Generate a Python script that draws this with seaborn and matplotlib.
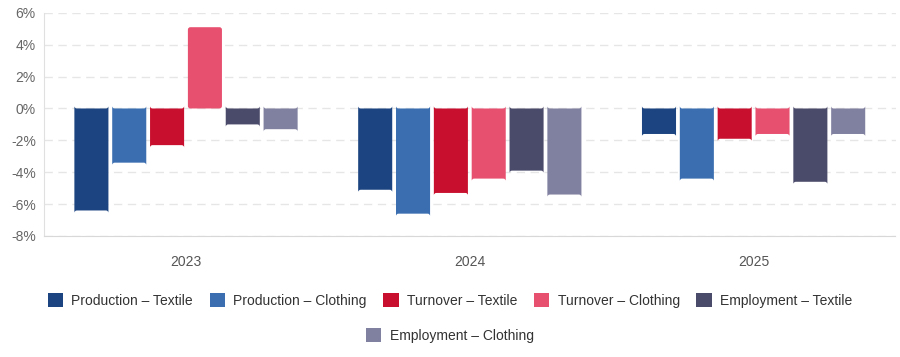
import pandas as pd
import matplotlib
matplotlib.use("Agg")
import matplotlib.pyplot as plt
import seaborn as sns
from matplotlib.patches import FancyBboxPatch, Patch
from matplotlib.ticker import FuncFormatter

# Data (annual change, %)
years = ["2023", "2024", "2025"]
series = [
    "Production – Textile",
    "Production – Clothing",
    "Turnover – Textile",
    "Turnover – Clothing",
    "Employment – Textile",
    "Employment – Clothing",
]
production_textile = [-6.4, -5.1, -1.6]
production_clothing = [-3.4, -6.6, -4.4]
turnover_textile = [-2.3, -5.3, -1.9]
turnover_clothing = [5.1, -4.4, -1.6]
employment_textile = [-1.0, -3.9, -4.6]
employment_clothing = [-1.3, -5.4, -1.6]
colors = ["#1c4480", "#3a6eb0", "#c8102e", "#e85070", "#4a4a6a", "#8080a0"]

values = [production_textile, production_clothing, turnover_textile,
          turnover_clothing, employment_textile, employment_clothing]

rows = []
for name, vals in zip(series, values):
    for year, v in zip(years, vals):
        rows.append({"year": year, "series": name, "value": v})
df = pd.DataFrame(rows)

sns.set_style("white")
plt.rcParams["font.family"] = ["Liberation Sans", "DejaVu Sans"]

fig = plt.figure(figsize=(9, 3.57), dpi=100)
ax = fig.add_axes([0.049, 0.339, 0.946, 0.625])

sns.barplot(data=df, x="year", y="value", hue="series", hue_order=series,
            order=years, palette=colors, saturation=1, width=0.8, gap=0.1,
            legend=False, ax=ax, zorder=3)

# rounded bar corners
for bar in list(ax.patches):
    x, y = bar.get_x(), bar.get_y()
    w, h = bar.get_width(), bar.get_height()
    rounded = FancyBboxPatch((x, y), w, h,
                             boxstyle="round,pad=0,rounding_size=0.009",
                             mutation_aspect=17,
                             facecolor=bar.get_facecolor(),
                             edgecolor="none", zorder=3)
    bar.remove()
    ax.add_patch(rounded)

ax.set_ylim(-8, 6)
ax.set_xlim(-0.5, 2.5)
ax.set_yticks(range(-8, 7, 2))
ax.yaxis.set_major_formatter(FuncFormatter(lambda v, p: f"{v:.0f}%"))
ax.grid(axis="y", color="#e6e6e6", linestyle=(0, (6, 4)), linewidth=1, zorder=0)
ax.set_xlabel("")
ax.set_ylabel("")

for side in ["top", "right"]:
    ax.spines[side].set_visible(False)
ax.spines["left"].set_color("#e0e0e0")
ax.spines["bottom"].set_color("#d8d8d8")
ax.tick_params(axis="y", length=0, labelsize=10, labelcolor="#666666", pad=6)
ax.tick_params(axis="x", length=0, labelsize=10, labelcolor="#555555", pad=14)

# legend: five items on row one, the last one centred below
handles = [Patch(facecolor=c, edgecolor="none") for c in colors]
fig.legend(handles[:5], series[:5], loc="center", bbox_to_anchor=(0.5, 0.158),
           ncol=5, frameon=False, fontsize=10, handlelength=1.1,
           handleheight=1.1, handletextpad=0.6, columnspacing=1.2,
           labelcolor="#333333")
fig.legend(handles[5:], series[5:], loc="center", bbox_to_anchor=(0.5, 0.06),
           ncol=1, frameon=False, fontsize=10, handlelength=1.1,
           handleheight=1.1, handletextpad=0.6, labelcolor="#333333")

fig.savefig("out.png", dpi=100)
